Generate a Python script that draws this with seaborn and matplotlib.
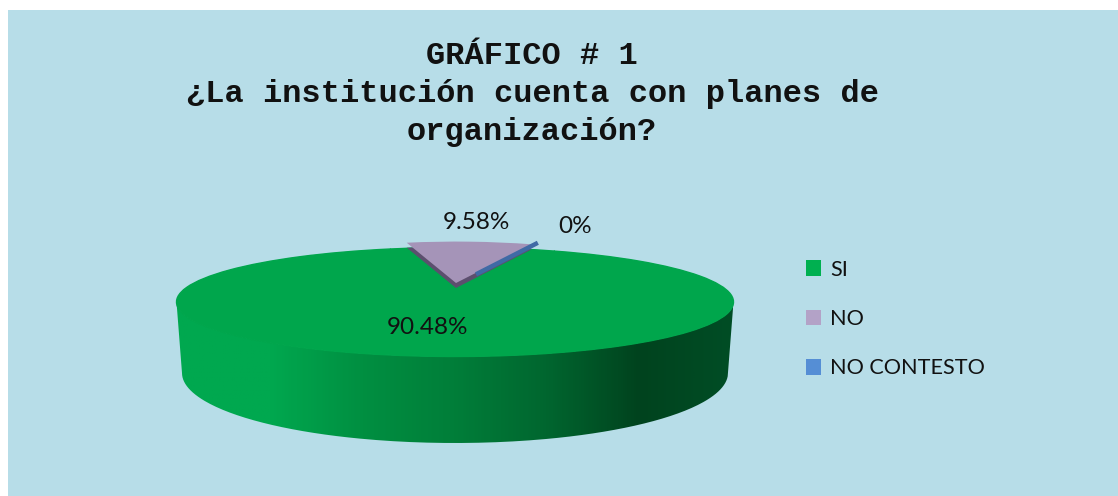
import numpy as np
import matplotlib
matplotlib.use("Agg")
import matplotlib.pyplot as plt
from matplotlib.patches import Patch, PathPatch, Rectangle
from matplotlib.path import Path
import seaborn as sns

# Survey answers and their printed percentages
categories = ["SI", "NO", "NO CONTESTO"]
shares = [90.48, 9.58, 0]
value_labels = ["90.48%", "9.58%", "0%"]
title_lines = ["GRÁFICO # 1", "¿La institución cuenta con planes de", "organización?"]

PANEL = "#B7DDE8"
top_colors = ["#00A64C", "#A594B8", "#3F6AA5"]
legend_colors = ["#00B050", "#B3A2C7", "#558ED5"]
rim_stops = ["#00A84F", "#00A84F", "#008F41", "#007E39", "#00662F", "#00431E", "#004D25"]

sns.set_theme(style="white")
plt.rcParams["font.family"] = ["Lato", "DejaVu Sans"]

W, H = 1118, 496
fig = plt.figure(figsize=(W / 100, H / 100), dpi=100, facecolor="white")
fig.add_artist(Rectangle((8 / W, 0), (W - 8) / W, (H - 10) / H, zorder=-1,
                         transform=fig.transFigure, facecolor=PANEL, edgecolor="none"))
ax = fig.add_axes([0, 0, 1, 1], facecolor="none")

# Disc geometry in pixels: the axes are stretched so a unit circle becomes the top ellipse
CX, CY, RX, RY = 455, 302, 278.5, 54.5
xlim = ((0 - CX) / RX, (W - CX) / RX)
ylim = ((CY - H) / RY, CY / RY)
start = 69
to_x = lambda px: (px - CX) / RX
to_y = lambda py: (CY - py) / RY

# Side wall of the disc, shaded from left to right
t = np.radians(np.linspace(180, 360, 200))
upper = np.column_stack([np.cos(t), np.sin(t)])
lower = np.column_stack([273 / RX * np.cos(t), to_y(373) + 70 / RY * np.sin(t)])
wall = Path(np.vstack([upper, lower[::-1], upper[:1]]))
wall_patch = PathPatch(wall, facecolor="none", edgecolor="none", transform=ax.transData)
ax.add_patch(wall_patch)
cmap = sns.blend_palette(rim_stops, as_cmap=True)
img = ax.imshow(np.linspace(0, 1, 300)[None, :], cmap=cmap, aspect="auto", zorder=0,
                extent=(to_x(176), to_x(733), to_y(445), to_y(300)))
img.set_clip_path(wall_patch)

# Top face: the whole disc is green, the lifted slice sits on top of it.
# A hairline edge in the same green closes the seams between wedges.
ax.pie(shares, colors=[top_colors[0]] * 3, startangle=start, counterclock=False, radius=1,
       wedgeprops={"linewidth": 1, "edgecolor": top_colors[0], "zorder": 1})

# Lifted slice, with its darker thickness underneath
slice_center = (to_x(456), to_y(283))
slice_radius = 0.76
ax.pie(shares, colors=["none", "#5C4F6E", "none"], startangle=start, counterclock=False,
       radius=slice_radius, center=(slice_center[0], slice_center[1] - 5 / RY),
       wedgeprops={"linewidth": 0, "zorder": 2})
wedges, _ = ax.pie(shares, colors=["none", top_colors[1], "none"], startangle=start,
                   counterclock=False, radius=slice_radius, center=slice_center,
                   wedgeprops={"linewidth": 0, "zorder": 3})

# The empty category shows only as a thin blue edge along the slice
edge = np.radians(wedges[2].theta1)
radii = np.array([0.2, 0.82])
ax.plot(slice_center[0] + radii * np.cos(edge),
        slice_center[1] + radii * np.sin(edge) - 1.5 / RY,
        color=top_colors[2], lw=3.2, solid_capstyle="butt", zorder=4)

ax.set_aspect("auto")
ax.set_xlim(*xlim)
ax.set_ylim(*ylim)
ax.axis("off")

# Value labels
label_px = [(428, 327), (476, 223), (575, 227)]
for text, (px, py) in zip(value_labels, label_px):
    ax.text(to_x(px), to_y(py), text, ha="center", va="center", fontsize=17.5,
            color="#111111", zorder=5)

# Title
fig.text(532 / W, 1 - 94 / H, "\n".join(title_lines), ha="center", va="center",
         family="Liberation Mono", weight="bold", fontsize=23, linespacing=1.33,
         color="#111111")

# Legend
handles = [Patch(facecolor=c, edgecolor="none") for c in legend_colors]
fig.legend(handles, categories, loc="center left", bbox_to_anchor=(797 / W, 1 - 319 / H),
           frameon=False, fontsize=15.6, handlelength=0.72, handleheight=0.72,
           handletextpad=0.4, labelspacing=1.36, borderaxespad=0, borderpad=0.4,
           labelcolor="#111111")

fig.savefig("out.png", dpi=100, facecolor="white")
